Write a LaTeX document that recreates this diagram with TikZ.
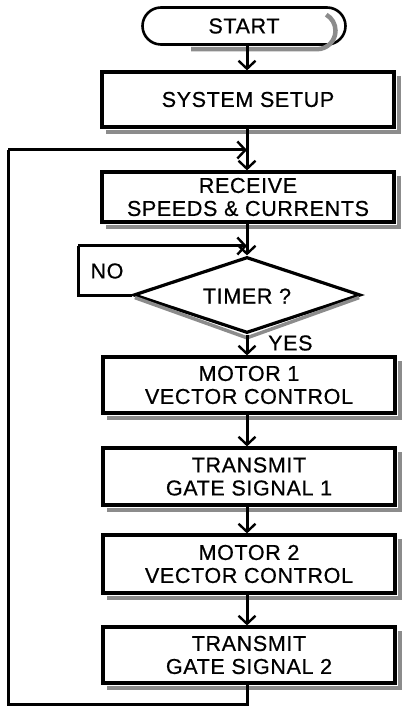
\documentclass[tikz,border=0pt]{standalone}
\usepackage{fontspec}
\setmainfont{Liberation Sans}[LetterSpace=3,FakeBold=0.6]
\usetikzlibrary{shapes.misc,shapes.geometric,arrows.meta}
\begin{document}
\begin{tikzpicture}[x=1pt,y=-1pt,
  every node/.style={font=\fontsize{21.5}{23}\selectfont},
  shadowline/.style={draw=black!45,line width=4.5pt,line join=miter},
  box/.style={draw,line width=3.2pt,fill=white,rectangle,minimum width=292pt,align=center,inner sep=0pt},
  term/.style={draw,line width=2.6pt,fill=white,rounded rectangle,minimum width=203pt,minimum height=37pt,inner sep=0pt},
  dec/.style={draw,line width=3.2pt,fill=white,diamond,minimum width=227pt,minimum height=76pt,inner sep=0pt,aspect=3},
  conn/.style={line width=3pt},
  arr/.style={conn,-{Straight Barb[length=8pt,width=17pt,line width=2.4pt]}}
]
\useasboundingbox (0,0) rectangle (403,708);
\node[term] (start) at (244,26) {START};
\node[box,minimum height=55pt] (setup) at (248,99.5) {SYSTEM SETUP};
\node[box,minimum height=50pt] (recv) at (248,197) {RECEIVE\\SPEEDS \& CURRENTS};
\node[dec] (timer) at (247,295) {};
\node (timertxt) at (247,296) {TIMER ?};
\node[box,minimum height=56pt] (m1) at (249,385) {MOTOR 1\\VECTOR CONTROL};
\node[box,minimum height=57pt] (t1) at (249,476.5) {TRANSMIT\\GATE SIGNAL 1};
\node[box,minimum height=58pt] (m2) at (249,564) {MOTOR 2\\VECTOR CONTROL};
\node[box,minimum height=56pt] (t2) at (249,655) {TRANSMIT\\GATE SIGNAL 2};
\node[anchor=center] (no) at (107,271) {NO};
\node[anchor=west,inner sep=0pt] (yes) at (268,343) {YES};

% shadows along the right and lower edges
\foreach \n in {setup,recv,m1,t1,m2,t2}
  \draw[shadowline] ([shift={(6,3.6)}]\n.south west) -- ([shift={(3.6,3.6)}]\n.south east) -- ([shift={(3.6,6)}]\n.north east);
\draw[shadowline] ([shift={(30,3.4)}]start.south west) -- ([shift={(-10,3.4)}]start.south east)
  arc[start angle=-90,end angle=60,radius=18.5pt];
\draw[shadowline,line width=3.5pt] ([shift={(3,2.6)}]timer.west) -- ([shift={(0,3.2)}]timer.south) -- ([shift={(-3,2.6)}]timer.east);

\coordinate (j1) at (247,150);
\coordinate (j2) at (247,246);
\coordinate (bl) at (8,704);
\coordinate (tl) at (8,150);
\coordinate (nl) at (78,295);
\coordinate (nt) at (78,246);
\coordinate (t2b) at (247,704);

\draw[arr] (start.south -| j1) -- (setup.north -| j1);
\draw[arr] (setup.south -| j1) -- (recv.north -| j1);
\draw[arr] (recv.south -| j1) -- (timer.north);
\draw[arr] (timer.south) -- (m1.north -| j1);
\draw[arr] (m1.south -| j1) -- (t1.north -| j1);
\draw[arr] (t1.south -| j1) -- (m2.north -| j1);
\draw[arr] (m2.south -| j1) -- (t2.north -| j1);
\draw[conn] (timer.west) -- (nl) -- (nt);
\draw[arr] (nt) -- (j2);
\draw[conn] (t2.south -| j1) -- (t2b) -- (bl) -- (tl);
\draw[arr] (tl) -- (j1);
\end{tikzpicture}
\end{document}
